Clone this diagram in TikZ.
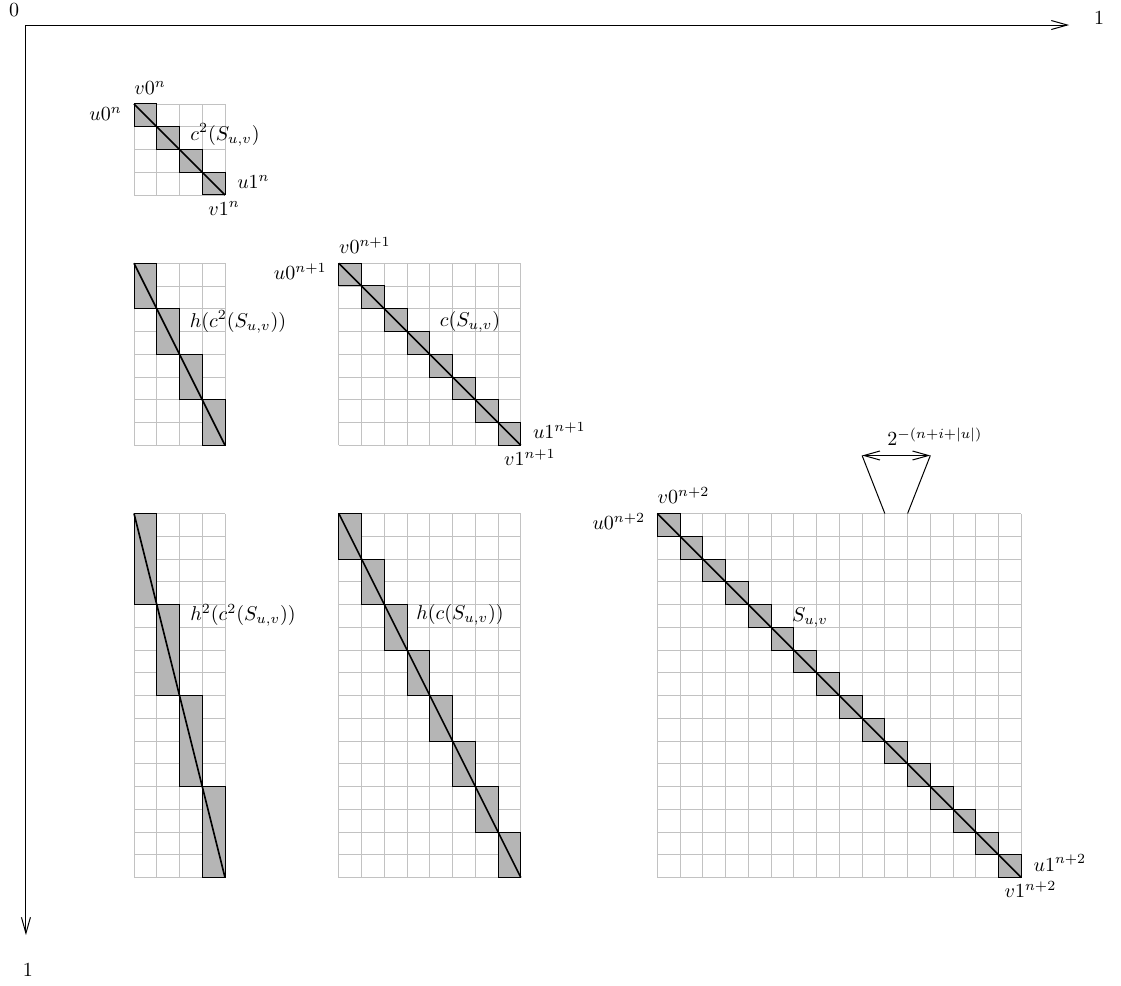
\documentclass[tikz,border=0pt]{standalone}
\usepackage{xcolor}
\usepackage{tikz}
\usetikzlibrary{positioning, arrows.meta, calc}
\definecolor{cellgray}{HTML}{C2C2C2}
\definecolor{blockgray}{HTML}{B5B5B5}

\tikzset{
  cellgrid/.style={draw=cellgray, line width=0.4pt, step=1},
  blockbox/.style={fill=blockgray, draw=black, line width=0.5pt},
  diagline/.style={draw=black, line width=0.8pt},
  corner/.style={inner sep=0pt},
  axisarrow/.style={->, line width=0.5pt},
}

% #1 name, #2 top-left corner, #3 columns, #4 rows
\newcommand{\stairgrid}[4]{%
  \begin{scope}[shift={#2}]
    \draw[cellgrid] (0,0) grid (#3,-#4);
    \pgfmathtruncatemacro{\blockh}{#4/#3}
    \foreach \k in {1,...,#3}
      \draw[blockbox] (\k-1,{-(\k-1)*\blockh}) rectangle (\k,{-\k*\blockh});
    \draw[diagline] (0,0) -- (#3,-#4);
    \coordinate (#1-nw) at (0,0);
    \coordinate (#1-se) at (#3,-#4);
  \end{scope}}

% #1 grid name, #2 exponent
\newcommand{\cornerlabels}[2]{%
  \node[corner, anchor=base west] (#1-v0) at ($(#1-nw)+(0,0.42)$) {$v0^{#2}$};
  \node[corner, anchor=base east] (#1-u0) at ($(#1-nw)+(-0.52,-0.72)$) {$u0^{#2}$};
  \node[corner, anchor=base west] (#1-u1) at ($(#1-se)+(0.52,0.28)$) {$u1^{#2}$};
  \node[corner, anchor=base west] (#1-v1) at ($(#1-se)+(-0.75,-0.88)$) {$v1^{#2}$};}

\begin{document}
\begin{tikzpicture}[x=0.4cm, y=0.4cm, >={Straight Barb[length=8pt,width=4.5pt]}]
    \useasboundingbox (-5.89,4.57) rectangle (43.38,-38.73);

    % axes
    \coordinate (origin) at (-4.75,3.47);
    \coordinate (xend) at (41.1,3.47);
    \coordinate (yend) at (-4.75,-36.53);
    \draw[axisarrow] (origin) -- (xend);
    \draw[axisarrow] (origin) -- (yend);
    \node (zero) at (-5.27,4.13) {$0$};
    \node (xone) at (42.42,3.78) {$1$};
    \node (yone) at (-4.66,-38.07) {$1$};

    % grids
    \stairgrid{ga}{(0,0)}{4}{4}
    \stairgrid{gb}{(0,-7)}{4}{8}
    \stairgrid{gc}{(9,-7)}{8}{8}
    \stairgrid{gd}{(0,-18)}{4}{16}
    \stairgrid{ge}{(9,-18)}{8}{16}
    \stairgrid{gf}{(23,-18)}{16}{16}

    \cornerlabels{ga}{n}
    \cornerlabels{gc}{n+1}
    \cornerlabels{gf}{n+2}

    \node (lab-a) at (4.0,-1.36) {$c^2(S_{u,v})$};
    \node (lab-b) at (4.57,-9.58) {$h(c^2(S_{u,v}))$};
    \node (lab-c) at (14.77,-9.58) {$c(S_{u,v})$};
    \node (lab-d) at (4.79,-22.46) {$h^2(c^2(S_{u,v}))$};
    \node (lab-e) at (14.33,-22.46) {$h(c(S_{u,v}))$};
    \node (lab-f) at (29.71,-22.55) {$S_{u,v}$};

    % width of one cell
    \coordinate (wl) at (33,-18);
    \coordinate (wr) at (34,-18);
    \coordinate (tl) at (32,-15.45);
    \coordinate (tr) at (35,-15.45);
    \draw[line width=0.5pt] (wl) -- (tl);
    \draw[line width=0.5pt] (wr) -- (tr);
    \draw[<->, line width=0.5pt] (tl) -- (tr);
    \node (width) at (35.2,-14.64) {$2^{-(n+i+|u|)}$};
\end{tikzpicture}
\end{document}
